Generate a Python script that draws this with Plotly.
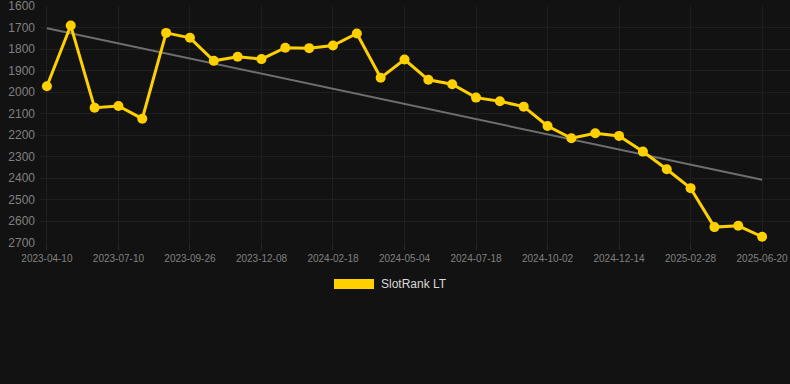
import plotly.graph_objects as go

dates = ["2023-04-10", "2023-05-10", "2023-06-10", "2023-07-10", "2023-08-05", "2023-08-31",
         "2023-09-26", "2023-10-20", "2023-11-14", "2023-12-08", "2024-01-01", "2024-01-25",
         "2024-02-18", "2024-03-14", "2024-04-09", "2024-05-04", "2024-05-29", "2024-06-23",
         "2024-07-18", "2024-08-12", "2024-09-07", "2024-10-02", "2024-10-26", "2024-11-19",
         "2024-12-14", "2025-01-08", "2025-02-03", "2025-02-28", "2025-04-05", "2025-05-13",
         "2025-06-20"]
rank = [1972, 1690, 2072, 2064, 2123, 1724, 1747, 1854, 1835, 1846, 1793, 1795, 1783, 1727,
        1933, 1848, 1942, 1963, 2025, 2042, 2067, 2157, 2214, 2191, 2203, 2276, 2358, 2446,
        2627, 2621, 2672]
trend_dates = [dates[0], dates[-1]]
trend_values = [1702, 2407]
tick_labels = dates[::3]
y_ticks = list(range(1600, 2701, 100))
series_name = "SlotRank LT"

BG = "#121212"
YELLOW = "#FFD000"
GRID = "#1f1f1f"
LABEL = "#808080"

fig = go.Figure()
fig.add_trace(go.Scatter(x=trend_dates, y=trend_values, mode="lines",
                         line=dict(color="#6e6e6e", width=2), showlegend=False,
                         hoverinfo="skip"))
fig.add_trace(go.Scatter(x=dates, y=rank, mode="lines+markers", name=series_name,
                         line=dict(color=YELLOW, width=3),
                         marker=dict(color=YELLOW, size=10), showlegend=False))

fig.update_layout(
    width=790, height=384,
    paper_bgcolor=BG, plot_bgcolor=BG,
    margin=dict(l=40, r=0, t=6, b=141),
    font=dict(family="Liberation Sans, Arial, sans-serif", color=LABEL),
    showlegend=False,
    xaxis=dict(type="category", categoryorder="array", categoryarray=dates,
               range=[-0.29, 31.17], tickmode="array", tickvals=tick_labels,
               ticktext=tick_labels, showgrid=True, gridcolor=GRID, gridwidth=1,
               zeroline=False, showline=False, ticks="outside", ticklen=6,
               tickcolor="#2a2a2a", tickfont=dict(size=10, color=LABEL),
               ticklabeloverflow="allow"),
    yaxis=dict(range=[2701, 1599], tickmode="array", tickvals=y_ticks,
               showgrid=True, gridcolor=GRID, gridwidth=1, zeroline=False,
               showline=False, ticks="", ticklabelstandoff=4,
               tickfont=dict(size=12, color=LABEL), ticklabeloverflow="allow"),
    shapes=[dict(type="rect", xref="paper", yref="paper",
                 x0=(334 - 40) / 750, x1=(374 - 40) / 750,
                 y0=(384 - 289 - 141) / 237, y1=(384 - 279 - 141) / 237,
                 fillcolor=YELLOW, line=dict(width=0))],
    annotations=[dict(text=series_name, xref="paper", yref="paper",
                      x=(379 - 40) / 750, y=(384 - 284 - 141) / 237,
                      xanchor="left", yanchor="middle", showarrow=False,
                      font=dict(size=12, color="#d8d8d8"))],
)

fig.write_html("out.html", config={"displayModeBar": False},
               post_script="document.body.style.margin='0';document.body.style.background='#121212';document.body.style.overflow='hidden';")
